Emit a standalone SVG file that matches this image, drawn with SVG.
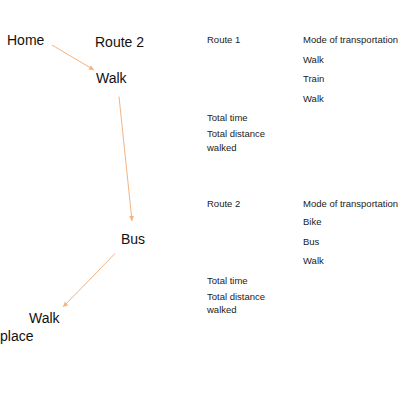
<svg xmlns="http://www.w3.org/2000/svg" width="400" height="400" viewBox="0 0 400 400">
<style>
.big{font-family:"Liberation Sans",Arial,sans-serif;font-size:14px;fill:#111}
.sm{font-family:"Liberation Sans",Arial,sans-serif;font-size:9.5px;fill:#222}
.c{stroke:#f3b482;stroke-width:1;fill:none}
</style>
<defs>
<marker id="ah" markerWidth="6" markerHeight="6" refX="5" refY="3" orient="auto" markerUnits="userSpaceOnUse">
<path d="M0,0.5 L5,3 L0,5.5 Z" fill="#f3b482"/>
</marker>
</defs>
<rect width="400" height="400" fill="#fff"/>
<g id="connectors">
<line class="c" x1="52" y1="45" x2="94" y2="70" marker-end="url(#ah)"/>
<line class="c" x1="119" y1="96.5" x2="132" y2="221" marker-end="url(#ah)"/>
<line class="c" x1="115" y1="253.5" x2="63" y2="307" marker-end="url(#ah)"/>
</g>
<g id="home"><text class="big" x="7" y="45">Home</text></g>
<g id="route2title"><text class="big" x="95" y="47">Route 2</text></g>
<g id="walk1"><text class="big" x="96" y="83">Walk</text></g>
<g id="bus"><text class="big" x="121" y="244">Bus</text></g>
<g id="walk2"><text class="big" x="29" y="323">Walk</text></g>
<g id="place"><text class="big" x="0" y="341">place</text></g>
<g id="table1">
<text class="sm" x="207" y="43">Route 1</text>
<text class="sm" x="303" y="43">Mode of transportation</text>
<text class="sm" x="303" y="63">Walk</text>
<text class="sm" x="303" y="82">Train</text>
<text class="sm" x="303" y="101.5">Walk</text>
<text class="sm" x="207" y="121">Total time</text>
<text class="sm" x="207" y="137">Total distance</text>
<text class="sm" x="207" y="151">walked</text>
</g>
<g id="table2">
<text class="sm" x="207" y="206.5">Route 2</text>
<text class="sm" x="303" y="206.5">Mode of transportation</text>
<text class="sm" x="303" y="225">Bike</text>
<text class="sm" x="303" y="244.5">Bus</text>
<text class="sm" x="303" y="264">Walk</text>
<text class="sm" x="207" y="283.5">Total time</text>
<text class="sm" x="207" y="300">Total distance</text>
<text class="sm" x="207" y="313">walked</text>
</g>
</svg>
